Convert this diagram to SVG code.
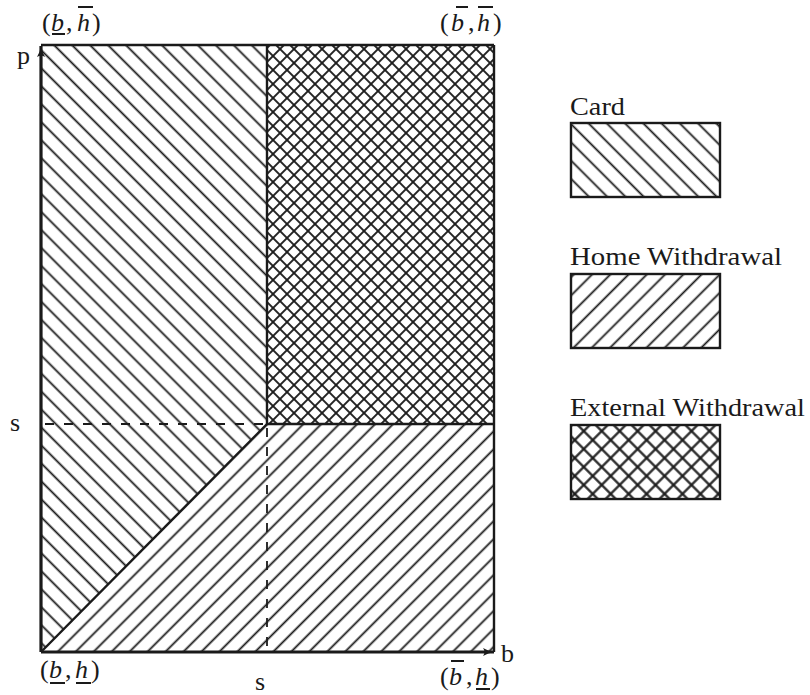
<svg xmlns="http://www.w3.org/2000/svg" width="810" height="695" viewBox="0 0 810 695">
<style>
  text { font-family: 'Liberation Serif', 'Times New Roman', Tinos, serif; font-size: 26px; fill: #1a1a1a; }
  .it { font-style: italic; }
  .border { fill: none; stroke: #1a1a1a; stroke-width: 2.4; }
  .axis { fill: none; stroke: #1a1a1a; stroke-width: 3.2; }
  .div { fill: none; stroke: #1a1a1a; stroke-width: 2.4; }
  .dash { fill: none; stroke: #1a1a1a; stroke-width: 1.8; stroke-dasharray: 9 10; }
  .bar { stroke: #1a1a1a; stroke-width: 2; }
  .lbox { stroke: #1a1a1a; stroke-width: 2.4; }
</style>
<defs>
  <pattern id="hatchBack" patternUnits="userSpaceOnUse" width="12.7" height="12.7" patternTransform="rotate(-45)">
    <line x1="6.35" y1="-1" x2="6.35" y2="14" stroke="#1a1a1a" stroke-width="1.8"/>
  </pattern>
  <pattern id="hatchFwd" patternUnits="userSpaceOnUse" width="12.7" height="12.7" patternTransform="rotate(45)">
    <line x1="6.35" y1="-1" x2="6.35" y2="14" stroke="#1a1a1a" stroke-width="1.8"/>
  </pattern>
  <pattern id="cross" patternUnits="userSpaceOnUse" width="9.9" height="9.9" patternTransform="rotate(45)">
    <line x1="4.95" y1="-1" x2="4.95" y2="11" stroke="#1a1a1a" stroke-width="1.9"/>
    <line x1="-1" y1="4.95" x2="11" y2="4.95" stroke="#1a1a1a" stroke-width="1.9"/>
  </pattern>
  <pattern id="legBack" patternUnits="userSpaceOnUse" width="12.9" height="12.9" patternTransform="rotate(-45)">
    <line x1="6.45" y1="-1" x2="6.45" y2="14" stroke="#1a1a1a" stroke-width="1.8"/>
  </pattern>
  <pattern id="legFwd" patternUnits="userSpaceOnUse" width="12.9" height="12.9" patternTransform="rotate(45)">
    <line x1="6.45" y1="-1" x2="6.45" y2="14" stroke="#1a1a1a" stroke-width="1.8"/>
  </pattern>
  <pattern id="legCross" patternUnits="userSpaceOnUse" width="12.7" height="12.7" patternTransform="rotate(45)">
    <line x1="6.35" y1="-1" x2="6.35" y2="14" stroke="#1a1a1a" stroke-width="2.2"/>
    <line x1="-1" y1="6.35" x2="14" y2="6.35" stroke="#1a1a1a" stroke-width="2.2"/>
  </pattern>
  <marker id="arrow" markerUnits="userSpaceOnUse" markerWidth="14" markerHeight="10" refX="12" refY="5" orient="auto">
    <path d="M1,1 Q6,4 12,5 Q6,6 1,9 Q4,5 1,1 z" fill="#1a1a1a"/>
  </marker>
</defs>

<g id="region-card">
  <polygon points="41,45 267,45 267,424 41,652" fill="url(#hatchBack)"/>
</g>
<g id="region-home">
  <polygon points="41,652 267,424 494,424 494,652" fill="url(#hatchFwd)"/>
</g>
<g id="region-external">
  <rect x="267" y="45" width="227" height="379" fill="url(#cross)"/>
</g>

<g id="connectors">
  <line class="border" x1="41" y1="45" x2="494" y2="45"/>
  <line class="border" x1="494" y1="45" x2="494" y2="652"/>
  <line class="div" x1="267" y1="45" x2="267" y2="424"/>
  <line class="div" x1="267" y1="424" x2="494" y2="424"/>
  <line class="div" x1="41" y1="652" x2="267" y2="424"/>
  <line class="dash" x1="45" y1="424" x2="265" y2="424"/>
  <line class="dash" x1="267" y1="428" x2="267" y2="650"/>
  <g id="axes">
    <line class="axis" x1="41" y1="652" x2="41" y2="46" marker-end="url(#arrow)"/>
    <line class="axis" x1="41" y1="652" x2="494" y2="652" marker-end="url(#arrow)"/>
  </g>
</g>

<g id="axis-labels">
  <text x="17" y="64">p</text>
  <text x="501" y="662">b</text>
  <text x="10" y="431">s</text>
  <text x="255" y="690">s</text>
</g>

<g id="corner-top-left">
  <text y="31"><tspan x="42">(</tspan><tspan class="it" x="51">b</tspan><tspan x="66">,</tspan><tspan class="it" x="77">h</tspan><tspan x="92">)</tspan></text>
  <line class="bar" x1="52" y1="34" x2="65" y2="34"/>
  <line class="bar" x1="78" y1="7" x2="93" y2="7"/>
</g>
<g id="corner-top-right">
  <text y="31"><tspan x="440">(</tspan><tspan class="it" x="451">b</tspan><tspan x="468">,</tspan><tspan class="it" x="477">h</tspan><tspan x="493">)</tspan></text>
  <line class="bar" x1="456" y1="7" x2="468" y2="7"/>
  <line class="bar" x1="478" y1="7" x2="493" y2="7"/>
</g>
<g id="corner-bottom-left">
  <text y="678"><tspan x="40">(</tspan><tspan class="it" x="49">b</tspan><tspan x="65">,</tspan><tspan class="it" x="75">h</tspan><tspan x="91">)</tspan></text>
  <line class="bar" x1="50" y1="683" x2="65" y2="683"/>
  <line class="bar" x1="76" y1="683" x2="91" y2="683"/>
</g>
<g id="corner-bottom-right">
  <text y="685"><tspan x="440">(</tspan><tspan class="it" x="449">b</tspan><tspan x="466">,</tspan><tspan class="it" x="475">h</tspan><tspan x="491">)</tspan></text>
  <line class="bar" x1="451" y1="661" x2="464" y2="661"/>
  <line class="bar" x1="476" y1="689" x2="490" y2="689"/>
</g>

<g id="legend-card">
  <text x="570" y="115" textLength="55" lengthAdjust="spacingAndGlyphs">Card</text>
  <rect class="lbox" x="571" y="123" width="149" height="74" fill="url(#legBack)"/>
</g>
<g id="legend-home">
  <text x="570" y="265" textLength="212" lengthAdjust="spacingAndGlyphs">Home Withdrawal</text>
  <rect class="lbox" x="571" y="274" width="149" height="74" fill="url(#legFwd)"/>
</g>
<g id="legend-external">
  <text x="570" y="416" textLength="235" lengthAdjust="spacingAndGlyphs">External Withdrawal</text>
  <rect class="lbox" x="571" y="425" width="149" height="74" fill="url(#legCross)"/>
</g>
</svg>
